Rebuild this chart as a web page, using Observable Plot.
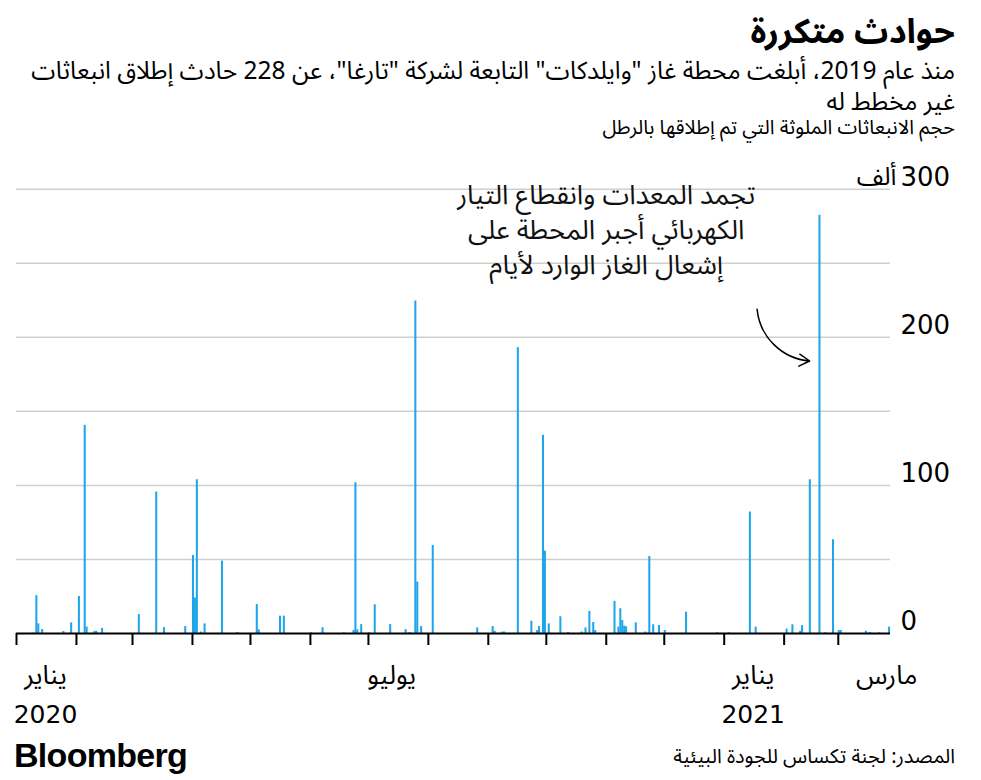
<!DOCTYPE html>
<html lang="ar">
<head>
<meta charset="utf-8">
<script src="https://cdn.jsdelivr.net/npm/d3@7"></script>
<script src="https://cdn.jsdelivr.net/npm/@observablehq/plot@0.6"></script>
<style>
  html, body { margin: 0; padding: 0; background: #fff; }
  body { width: 981px; height: 780px; overflow: hidden; position: relative;
         font-family: "Noto Sans Arabic", "DejaVu Sans", sans-serif; color: #000; }
  .t { position: absolute; right: 26px; direction: rtl; white-space: nowrap; line-height: 1.1; z-index: 2; }
  #title { top: 14px; font-size: 34px; font-weight: bold; }
  #sub1 { top: 58px; font-size: 24.5px; }
  #sub2 { top: 89px; font-size: 24.5px; }
  #sub3 { top: 117px; font-size: 20px; }
  #chart { position: absolute; top: 140px; left: 0; z-index: 1; }
  #logo { position: absolute; left: 14px; top: 738px; font-family: "Liberation Sans", Arial, sans-serif;
          font-weight: bold; font-size: 34px; letter-spacing: -0.7px; line-height: 1; }
  #source { top: 746px; font-size: 20px; }
</style>
</head>
<body>
<div class="t" id="title">حوادث متكررة</div>
<div class="t" id="sub1">منذ عام 2019، أبلغت محطة غاز "وايلدكات" التابعة لشركة "تارغا"، عن 228 حادث إطلاق انبعاثات</div>
<div class="t" id="sub2">غير مخطط له</div>
<div class="t" id="sub3">حجم الانبعاثات الملوثة التي تم إطلاقها بالرطل</div>
<div id="chart"></div>
<div id="logo">Bloomberg</div>
<div class="t" id="source">المصدر: لجنة تكساس للجودة البيئية</div>
<script>
// Incident dates and emissions (thousands of pounds)
const eventDates = [
  "2020-01-09","2020-01-11","2020-01-12","2020-01-14","2020-01-25","2020-01-29",
  "2020-02-02","2020-02-05","2020-02-06","2020-02-10","2020-02-11","2020-02-14",
  "2020-03-04","2020-03-13","2020-03-17","2020-03-28",
  "2020-04-01","2020-04-02","2020-04-03","2020-04-05","2020-04-07","2020-04-16","2020-04-24",
  "2020-05-04","2020-05-05","2020-05-16","2020-05-18",
  "2020-06-01","2020-06-07","2020-06-18","2020-06-23","2020-06-24","2020-06-25","2020-06-27",
  "2020-07-01","2020-07-04","2020-07-12","2020-07-20","2020-07-22","2020-07-25","2020-07-26","2020-07-28",
  "2020-08-03","2020-08-26",
  "2020-09-03","2020-09-04","2020-09-08","2020-09-09","2020-09-16","2020-09-23","2020-09-26","2020-09-27","2020-09-29","2020-09-30",
  "2020-10-02","2020-10-08","2020-10-12","2020-10-19","2020-10-21","2020-10-23","2020-10-25","2020-10-26",
  "2020-11-05","2020-11-07","2020-11-08","2020-11-09","2020-11-10","2020-11-11","2020-11-16","2020-11-21","2020-11-23","2020-11-25","2020-11-28",
  "2020-12-01","2020-12-12","2020-12-28",
  "2021-01-03","2021-01-14","2021-01-17",
  "2021-02-02","2021-02-05","2021-02-09","2021-02-10","2021-02-14","2021-02-19","2021-02-22","2021-02-26",
  "2021-03-01","2021-03-02","2021-03-15","2021-03-17","2021-03-22","2021-03-27"
];
const emissions = [
  0.3, 25.5, 6.5, 2.7, 1.3, 7.2,
  25, 140.5, 4.3, 1.3, 1.5, 3.4,
  12.8, 95.5, 4, 4.7,
  52.7, 24, 103.8, 1, 6.5, 48.9, 0.7,
  19.6, 2.5, 11.7, 11.7,
  0.5, 3.9, 0.5, 2, 101.8, 2.5, 6,
  0.5, 19.4, 6, 2.6, 0.7, 224.5, 34.7, 4.7,
  59.5, 3.8,
  4.7, 1.5, 1, 1, 193, 8.3, 2, 4.7, 133.8, 55.6,
  6.5, 11.3, 0.7, 1, 3.8, 14.9, 7.4, 2,
  21.7, 4.3, 16.7, 8.8, 5, 4.5, 7.2, 1, 52, 5.9, 5.4,
  2, 14.4, 0.5,
  0.5, 82, 4.3,
  3, 5.9, 1.5, 5.4, 103.8, 282.4, 0.5, 63.3,
  2, 2, 1.5, 0.7, 0.5, 4.3
];

const xStart = "2020-01-01";
const xEnd = "2021-03-28";
const monthTicks = ["2020-01-01","2020-02-01","2020-03-01","2020-04-01","2020-05-01","2020-06-01",
  "2020-07-01","2020-08-01","2020-09-01","2020-10-01","2020-11-01","2020-12-01",
  "2021-01-01","2021-02-01","2021-03-01"];
const monthLabelDates = ["2020-01-16","2020-07-13","2021-01-16","2021-03-26"];
const monthLabels = ["يناير","يوليو","يناير","مارس"];
const yearLabelDates = ["2020-01-16","2021-01-16"];
const yearLabels = ["2020","2021"];
const gridValues = [50, 100, 150, 200, 250, 300];
const yTickValues = [0, 100, 200, 300];
const yUnitLabel = "ألف";

const noteLines = ["تجمد المعدات وانقطاع التيار","الكهربائي أجبر المحطة على","إشعال الغاز الوارد لأيام"];
const noteDate = "2020-11-01";
const noteValue = 274;
const arrowFrom = {date: "2021-01-18", value: 219};
const arrowTo = {date: "2021-02-14T05:00", value: 184};

const P = s => new Date(s);
const data = eventDates.map((d, i) => ({date: P(d), value: emissions[i]}));
const domainEnd = P(xEnd);
const numFont = "'DejaVu Sans', sans-serif";
const arFont = "'Noto Sans Arabic', 'DejaVu Sans', sans-serif";

const chart = Plot.plot({
  width: 981,
  height: 600,
  marginLeft: 16,
  marginRight: 91,
  marginTop: 48.7,
  marginBottom: 107,
  x: {type: "utc", domain: [P(xStart), domainEnd], axis: null},
  y: {domain: [0, 300], axis: null},
  style: {fontFamily: arFont, color: "#000", overflow: "visible", background: "transparent"},
  marks: [
    Plot.ruleY(gridValues, {stroke: "#cfcfcf", strokeWidth: 1.5}),
    Plot.rectY(data, {x: "date", y: "value", interval: "day", fill: "#1ea5ea", insetLeft: 0, insetRight: -0.1}),
    Plot.ruleY([0], {stroke: "#000", strokeWidth: 2}),
    Plot.axisX({ticks: monthTicks.map(P), tickSize: 12, tickFormat: () => "", stroke: "#000", strokeWidth: 2}),
    Plot.text(monthLabelDates.map(P), {x: d => d, text: monthLabels, frameAnchor: "bottom", dy: 50, fontSize: 26, fill: "#000", fontFamily: arFont}),
    Plot.text(yearLabelDates.map(P), {x: d => d, text: yearLabels, frameAnchor: "bottom", dy: 89, fontSize: 25, fill: "#000", fontFamily: numFont}),
    Plot.text(yTickValues, {x: () => domainEnd, y: d => d, text: d => String(d), textAnchor: "start", dx: 10, dy: -12, fontSize: 26, fill: "#000", fontFamily: numFont}),
    Plot.text([300], {x: () => domainEnd, y: d => d, text: () => yUnitLabel, textAnchor: "end", dx: 6, dy: -12, fontSize: 25, fill: "#000", fontFamily: arFont}),
    Plot.text([noteLines.join("\n")], {x: () => P(noteDate), y: () => noteValue, text: d => d, textAnchor: "middle", lineAnchor: "middle", lineHeight: 1.3, fontSize: 27, fill: "#111", fontFamily: arFont}),
    Plot.arrow([0], {x1: () => P(arrowFrom.date), y1: () => arrowFrom.value, x2: () => P(arrowTo.date), y2: () => arrowTo.value, bend: -40, stroke: "#000", strokeWidth: 1.5, headLength: 12})
  ]
});
document.getElementById("chart").appendChild(chart);
</script>
</body>
</html>
